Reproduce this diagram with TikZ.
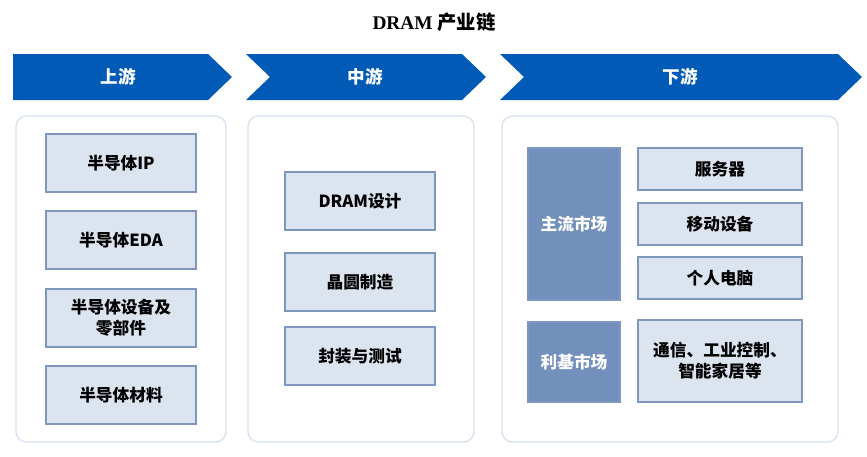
\documentclass[tikz,border=0pt]{standalone}
\usepackage{fontspec}
\setmainfont{Liberation Serif}
\newfontfamily\cjk{Noto Sans CJK SC}
\usetikzlibrary{positioning}
\definecolor{arrowblue}{RGB}{0,90,182}
\definecolor{boxfill}{RGB}{220,228,240}
\definecolor{boxline}{RGB}{127,151,191}
\definecolor{darkfill}{RGB}{115,144,188}
\definecolor{panelline}{RGB}{216,226,240}
\begin{document}
\begin{tikzpicture}[
		x=0.02cm, y=-0.02cm,
		stage/.style ={fill=arrowblue, draw=none},
		panel/.style ={draw=panelline, thick, rounded corners=6pt, fill=white},
		item/.style  ={rectangle, draw=boxline, fill=boxfill, thick, align=center,
			font=\cjk\bfseries\fontsize{9.5pt}{12pt}\selectfont, inner sep=0pt},
		market/.style={rectangle, draw=boxline, fill=darkfill, thick, text=white,
			font=\cjk\bfseries\fontsize{9.5pt}{12pt}\selectfont, inner sep=0pt},
		label/.style ={text=white, font=\cjk\bfseries\fontsize{10pt}{12pt}\selectfont},
	]
	\useasboundingbox (0,0) rectangle (867,457);

	% title
	\node [font=\bfseries\fontsize{11pt}{13pt}\selectfont] (title) at (434,22) {DRAM {\cjk 产业链}};

	% stage arrows
	\fill [stage] (13,54) -- (208,54) -- (232,77) -- (208,100) -- (13,100) -- cycle;
	\fill [stage] (246,54) -- (462,54) -- (486,77) -- (462,100) -- (246,100) -- (270,77) -- cycle;
	\fill [stage] (500,54) -- (838,54) -- (862,77) -- (838,100) -- (500,100) -- (524,77) -- cycle;
	\node [label] (up)   at (118,77) {上游};
	\node [label] (mid)  at (365,77) {中游};
	\node [label] (down) at (680,77) {下游};

	% panels
	\draw [panel] (16,116) rectangle (226,442);
	\draw [panel] (248,116) rectangle (474,442);
	\draw [panel] (502,116) rectangle (838,442);

	% upstream
	\foreach \y/\t [count=\i] in {163/半导体IP, 240/半导体EDA, 318/{半导体设备及\\零部件}, 395/半导体材料}
		\node [item, minimum width=3cm, minimum height=1.16cm] (up\i) at (121,\y) {\t};

	% midstream
	\foreach \y/\t [count=\i] in {201/DRAM设计, 282/晶圆制造, 356/封装与测试}
		\node [item, minimum width=3cm, minimum height=1.16cm] (mid\i) at (360,\y) {\t};

	% downstream
	\node [market, minimum width=1.84cm, minimum height=3.04cm] (main) at (574,224) {主流市场};
	\node [market, minimum width=1.84cm, minimum height=1.6cm] (niche) at (574,362) {利基市场};
	\foreach \y/\t [count=\i] in {169/服务器, 224/移动设备, 278/个人电脑}
		\node [item, minimum width=3.28cm, minimum height=0.84cm] (app\i) at (720,\y) {\t};
	\node [item, minimum width=3.28cm, minimum height=1.64cm] (app4) at (720,361) {通信、工业控制、\\智能家居等};
\end{tikzpicture}
\end{document}
